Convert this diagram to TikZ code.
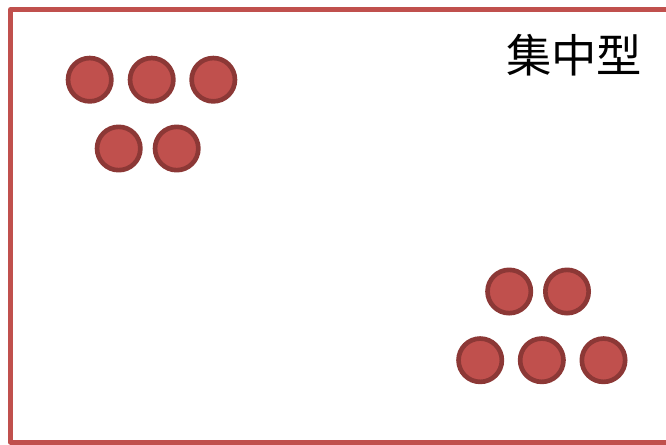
\documentclass[tikz,border=0pt]{standalone}
\usepackage{fontspec}
\newfontfamily\cjk{Noto Sans CJK SC}
\definecolor{frame}{HTML}{C0504D}
\definecolor{dotfill}{HTML}{C0504D}
\definecolor{dotrim}{HTML}{8C3836}
\begin{document}
\begin{tikzpicture}[x=0.75pt,y=-0.75pt,line join=round,
  dot/.style={circle,draw=dotrim,fill=dotfill,line width=3.5pt,minimum size=32.5pt,inner sep=0pt}]
  \useasboundingbox (0,0) rectangle (666,444);
  \draw[frame,line width=3.75pt] (10.5,9.5) rectangle (680,442);
  % upper left group
  \foreach \x/\n in {89.7/a1,151.7/a2,213.3/a3}
    \node[dot] (\n) at (\x,79.7) {};
  \foreach \x/\n in {118.7/a4,176.7/a5}
    \node[dot] (\n) at (\x,148.5) {};
  % lower right group
  \foreach \x/\n in {509.2/b1,567/b2}
    \node[dot] (\n) at (\x,291.5) {};
  \foreach \x/\n in {480.2/b3,541.8/b4,603.5/b5}
    \node[dot] (\n) at (\x,360.2) {};
  \node[font=\cjk\fontsize{34pt}{34pt}\selectfont,inner sep=0pt] (title) at (574,55) {集中型};
\end{tikzpicture}
\end{document}
